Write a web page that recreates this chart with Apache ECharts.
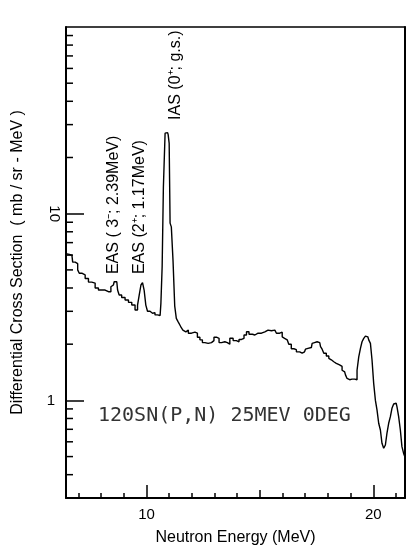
<!DOCTYPE html>
<html>
<head>
<meta charset="utf-8">
<script src="https://cdn.jsdelivr.net/npm/echarts@6/dist/echarts.min.js"></script>
<style>
  html, body { margin: 0; padding: 0; background: #fff; }
  #chart { width: 408px; height: 551px; }
</style>
</head>
<body>
<div id="chart"></div>
<script>
// Neutron spectrum, 120Sn(p,n) at 25 MeV, 0 degrees
const energy = [
  6.45, 6.60, 6.71, 6.78, 6.93, 7.00, 7.07, 7.22, 7.37, 7.51,
  7.66, 7.81, 7.95, 8.10, 8.25, 8.39, 8.47, 8.54, 8.61, 8.69,
  8.76, 8.83, 8.98, 9.13, 9.28, 9.42, 9.57, 9.64, 9.72, 9.79,
  9.86, 9.93, 10.01, 10.08, 10.23, 10.30, 10.45, 10.52, 10.60, 10.67,
  10.71, 10.78, 10.86, 10.93, 10.98, 11.02, 11.06, 11.13, 11.21, 11.28,
  11.35, 11.42, 11.50, 11.57, 11.64, 11.69, 11.78, 11.91, 12.06, 12.21,
  12.28, 12.43, 12.50, 12.65, 12.79, 12.94, 13.01, 13.16, 13.24, 13.38,
  13.53, 13.60, 13.75, 13.89, 14.04, 14.12, 14.26, 14.34, 14.48, 14.56,
  14.78, 14.92, 15.07, 15.22, 15.36, 15.51, 15.66, 15.80, 15.95, 16.02,
  16.09, 16.17, 16.24, 16.31, 16.46, 16.54, 16.68, 16.83, 16.90, 16.97,
  17.05, 17.12, 17.27, 17.34, 17.41, 17.49, 17.56, 17.64, 17.71, 17.78,
  17.86, 18.00, 18.08, 18.15, 18.22, 18.30, 18.37, 18.44, 18.59, 18.66,
  18.74, 18.81, 18.88, 18.96, 19.03, 19.10, 19.18, 19.25, 19.32, 19.40,
  19.47, 19.54, 19.62, 19.69, 19.76, 19.84, 19.91, 19.98, 20.06, 20.13,
  20.20, 20.28, 20.35, 20.42, 20.50, 20.57, 20.64, 20.72, 20.79, 20.86,
  20.94, 21.01, 21.08, 21.16, 21.23, 21.30, 21.38, 21.40
];
const crossSection = [
  6.10, 6.05, 6.00, 5.50, 5.40, 5.00, 4.80, 4.70, 4.50, 4.30,
  4.25, 4.00, 3.90, 3.90, 3.82, 3.82, 4.06, 4.15, 4.32, 4.32,
  3.90, 3.67, 3.56, 3.45, 3.35, 3.24, 3.05, 3.24, 3.67, 4.15,
  4.27, 3.90, 3.24, 3.00, 2.93, 2.95, 2.87, 2.81, 2.85, 3.31,
  5.20, 13.9, 27.0, 27.2, 26.5, 23.8, 8.90, 8.50, 5.60, 3.20,
  2.75, 2.65, 2.55, 2.45, 2.38, 2.33, 2.38, 2.29, 2.32, 2.29,
  2.18, 2.11, 2.04, 2.02, 2.04, 2.09, 2.18, 2.15, 2.04, 2.06,
  2.04, 2.00, 2.15, 2.09, 2.06, 2.12, 2.15, 2.24, 2.33, 2.26,
  2.24, 2.29, 2.29, 2.33, 2.38, 2.36, 2.38, 2.29, 2.32, 2.19,
  2.15, 2.11, 2.08, 2.00, 1.89, 1.87, 1.82, 1.79, 1.77, 1.82,
  1.88, 1.90, 1.92, 2.02, 2.04, 2.06, 2.09, 2.04, 1.94, 1.88,
  1.79, 1.73, 1.68, 1.65, 1.61, 1.61, 1.58, 1.55, 1.52, 1.45,
  1.42, 1.37, 1.31, 1.29, 1.30, 1.33, 1.30, 1.29, 1.45, 1.71,
  1.90, 2.06, 2.15, 2.21, 2.19, 2.11, 2.02, 1.65, 1.23, 1.00,
  0.89, 0.754, 0.694, 0.589, 0.554, 0.577, 0.667, 0.754, 0.818, 0.907,
  0.956, 0.965, 0.925, 0.818, 0.694, 0.565, 0.52, 0.50
];

// Axis ticks and labels
const xMajorTicks = [10, 20];
const xMidTicks = [15];
const xMinorTicks = [7, 8, 9, 11, 12, 13, 14, 16, 17, 18, 19, 21];
const xTickLabels = [10, 20];
const yMinorTicks = [0.4, 0.5, 0.6, 0.7, 0.8, 0.9, 2, 3, 4, 5, 6, 7, 8, 9, 20, 30, 40, 50, 60, 70, 80, 90];

// Peak labels (anchored at the bottom end of each rotated text)
const peakLabels = ['EAS ( 3\u207B; 2.39MeV)', 'EAS (2\u207A; 1.17MeV)', 'IAS (0\u207A; g.s.)'];
const peakLabelEnergy = [8.53, 9.68, 11.30];
const peakLabelValue = [4.75, 4.75, 31.8];

const reactionLabel = '120SN(P,N) 25MEV 0DEG';
const reactionLabelAt = [7.86, 0.825];

const X_MIN = 6.45, X_MAX = 21.4, Y_MIN = 0.3, Y_MAX = 100;
const ink = '#000';
const sans = 'Liberation Sans, Arial, sans-serif';

const chart = echarts.init(document.getElementById('chart'), null, { renderer: 'canvas' });

const plainX = {
  type: 'value', min: X_MIN, max: X_MAX, gridIndex: 0,
  splitLine: { show: false },
  axisLine: { show: false, onZero: false },
  axisLabel: { show: false },
  axisTick: { show: false }
};
const plainY = {
  type: 'log', logBase: 10, min: Y_MIN, max: Y_MAX, gridIndex: 0,
  splitLine: { show: false },
  minorTick: { show: false },
  axisLine: { show: false, onZero: false },
  axisLabel: { show: false },
  axisTick: { show: false }
};
const tickStyle = { color: ink, width: 1.5 };
const near = (a, b) => Math.abs(a - b) < 1e-6 * Math.max(1, Math.abs(b));

chart.setOption({
  animation: false,
  backgroundColor: '#fff',
  grid: { left: 66, right: 3, top: 27, bottom: 53, containLabel: false },
  xAxis: [
    Object.assign({}, plainX, {
      position: 'bottom',
      axisLine: { show: true, onZero: false, lineStyle: { color: ink, width: 2 } },
      axisTick: { show: true, inside: true, length: 13, customValues: xMajorTicks, lineStyle: tickStyle },
      axisLabel: { show: true, customValues: xTickLabels, margin: 9, fontSize: 15, color: ink, fontFamily: sans },
      name: 'Neutron Energy (MeV)',
      nameLocation: 'middle',
      nameGap: 32,
      nameTextStyle: { fontSize: 16, color: ink, fontFamily: sans }
    }),
    Object.assign({}, plainX, {
      position: 'bottom',
      axisTick: { show: true, inside: true, length: 8, customValues: xMidTicks, lineStyle: tickStyle }
    }),
    Object.assign({}, plainX, {
      position: 'bottom',
      axisTick: { show: true, inside: true, length: 5, customValues: xMinorTicks, lineStyle: tickStyle }
    }),
    Object.assign({}, plainX, {
      position: 'top',
      axisLine: { show: true, onZero: false, lineStyle: { color: ink, width: 1.5 } }
    })
  ],
  yAxis: [
    Object.assign({}, plainY, {
      position: 'left',
      axisLine: { show: true, onZero: false, lineStyle: { color: ink, width: 2 } },
      axisTick: { show: true, inside: true, length: 18, lineStyle: tickStyle },
      axisLabel: {
        show: true, margin: 11, fontSize: 15, color: ink, fontFamily: sans,
        showMinLabel: false, showMaxLabel: false,
        formatter: v => (near(v, 1) ? '1' : '')
      },
      name: 'Differential Cross Section  ( mb / sr - MeV )',
      nameLocation: 'middle',
      nameGap: 40,
      nameRotate: 90,
      nameTextStyle: { fontSize: 16, color: ink, fontFamily: sans }
    }),
    Object.assign({}, plainY, {
      position: 'left',
      axisLabel: {
        show: true, rotate: -90, margin: 4, fontSize: 15, color: ink, fontFamily: sans,
        showMinLabel: false, showMaxLabel: false,
        formatter: v => (near(v, 10) ? '10' : '')
      }
    }),
    Object.assign({}, plainY, {
      position: 'right',
      axisLine: { show: true, onZero: false, lineStyle: { color: ink, width: 2 } }
    })
  ],
  series: [
    {
      name: 'spectrum',
      type: 'line',
      xAxisIndex: 0,
      yAxisIndex: 0,
      step: 'middle',
      symbol: 'none',
      silent: true,
      lineStyle: { color: ink, width: 1.4 },
      data: energy.map((e, i) => [e, crossSection[i]])
    },
    {
      // short inward ticks for the logarithmic sub-decades
      name: 'yMinorTicks',
      type: 'custom',
      xAxisIndex: 0,
      yAxisIndex: 0,
      silent: true,
      clip: false,
      data: yMinorTicks.map(v => [X_MIN, v]),
      renderItem: (params, api) => {
        const p = api.coord([api.value(0), api.value(1)]);
        return {
          type: 'line',
          shape: { x1: p[0], y1: p[1], x2: p[0] + 7, y2: p[1] },
          style: { stroke: ink, lineWidth: 1.5 }
        };
      }
    }
  ]
});

// Text annotations placed at data coordinates
const graphics = peakLabels.map((t, i) => {
  const p = chart.convertToPixel({ xAxisIndex: 0, yAxisIndex: 0 }, [peakLabelEnergy[i], peakLabelValue[i]]);
  return {
    type: 'text',
    x: p[0], y: p[1],
    rotation: Math.PI / 2,
    silent: true,
    style: { text: t, fill: ink, font: '16px ' + sans, align: 'left', verticalAlign: 'middle' }
  };
});
const rp = chart.convertToPixel({ xAxisIndex: 0, yAxisIndex: 0 }, reactionLabelAt);
graphics.push({
  type: 'text',
  x: rp[0], y: rp[1],
  silent: true,
  style: { text: reactionLabel, fill: '#333', font: '20px DejaVu Sans Mono, monospace', align: 'left', verticalAlign: 'middle' }
});
chart.setOption({ graphic: graphics });
</script>
</body>
</html>
